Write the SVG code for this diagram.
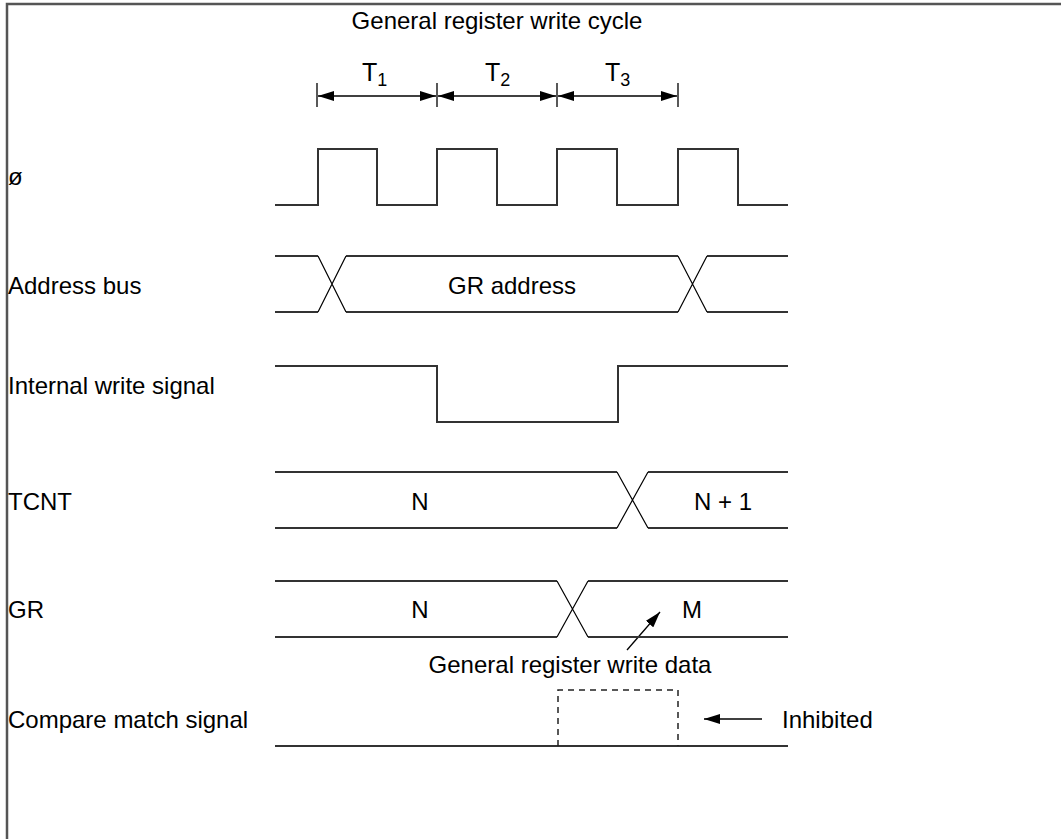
<svg xmlns="http://www.w3.org/2000/svg" width="1061" height="839" viewBox="0 0 1061 839">
<style>
text{font-family:"Liberation Sans",Arial,sans-serif;font-size:24px;fill:#000}
.mid{text-anchor:middle}
.sub{font-size:18px}
.wave{fill:none;stroke:#333;stroke-width:2}
.x{fill:none;stroke:#000;stroke-width:1.2}
.thin{fill:none;stroke:#000;stroke-width:1.3}
.dash{fill:none;stroke:#222;stroke-width:1.5;stroke-dasharray:6 5}
.frame{fill:none;stroke:#555;stroke-width:2.5}
</style>
<defs>
<marker id="ah" viewBox="0 0 16 10" refX="16" refY="5" markerWidth="16" markerHeight="10" markerUnits="userSpaceOnUse" orient="auto-start-reverse">
<path d="M0,0 L16,5 L0,10 Z" fill="#000"/>
</marker>
</defs>
<rect width="1061" height="839" fill="#fff"/>
<path class="frame" d="M7,839 V4 H1061"/>
<g id="title"><text class="mid" x="497" y="29">General register write cycle</text></g>
<g id="timing">
<path class="thin" d="M317,83 V107 M437,83 V107 M557,83 V107 M678,83 V107"/>
<text x="362" y="81" style="font-size:25px">T<tspan class="sub" dy="5">1</tspan></text>
<text x="485" y="81" style="font-size:25px">T<tspan class="sub" dy="5">2</tspan></text>
<text x="605" y="81" style="font-size:25px">T<tspan class="sub" dy="5">3</tspan></text>
</g>
<g id="connectors">
<line class="thin" x1="318" y1="96" x2="436" y2="96" marker-start="url(#ah)" marker-end="url(#ah)"/>
<line class="thin" x1="438" y1="96" x2="556" y2="96" marker-start="url(#ah)" marker-end="url(#ah)"/>
<line class="thin" x1="558" y1="96" x2="677" y2="96" marker-start="url(#ah)" marker-end="url(#ah)"/>
<line class="thin" x1="627" y1="650" x2="660" y2="612" marker-end="url(#ah)"/>
<line class="thin" x1="762" y1="719" x2="704" y2="719" marker-end="url(#ah)"/>
</g>
<g id="clock">
<text x="8" y="185">ø</text>
<path class="wave" d="M275,205 H318 V149 H377 V205 H437 V149 H497 V205 H557 V149 H617 V205 H678 V149 H738 V205 H788"/>
</g>
<g id="address-bus">
<text x="8" y="294">Address bus</text>
<path class="wave" d="M275,256 H318 M346,256 H678 M707,256 H788 M275,312 H318 M346,312 H678 M707,312 H788"/>
<path class="x" d="M318,256 L346,312 M318,312 L346,256 M678,256 L707,312 M678,312 L707,256"/>
<text class="mid" x="512" y="294">GR address</text>
</g>
<g id="internal-write">
<text x="8" y="394">Internal write signal</text>
<path class="wave" d="M275,366 H437 V422 H618 V366 H788"/>
</g>
<g id="tcnt">
<text x="8" y="510">TCNT</text>
<path class="wave" d="M275,472 H617 M648,472 H788 M275,528 H617 M648,528 H788"/>
<path class="x" d="M617,472 L648,528 M617,528 L648,472"/>
<text class="mid" x="420" y="510">N</text>
<text class="mid" x="723" y="510">N + 1</text>
</g>
<g id="gr">
<text x="8" y="618">GR</text>
<path class="wave" d="M275,581 H557 M588,581 H788 M275,637 H557 M588,637 H788"/>
<path class="x" d="M557,581 L588,637 M557,637 L588,581"/>
<text class="mid" x="420" y="618">N</text>
<text class="mid" x="692" y="618">M</text>
</g>
<g id="write-data-label"><text class="mid" x="570" y="673">General register write data</text></g>
<g id="compare-match">
<text x="8" y="728">Compare match signal</text>
<path class="wave" d="M275,746 H788"/>
<path class="dash" d="M558,746 V690 H678 V746"/>
</g>
<g id="inhibited"><text x="782" y="728">Inhibited</text></g>
</svg>
